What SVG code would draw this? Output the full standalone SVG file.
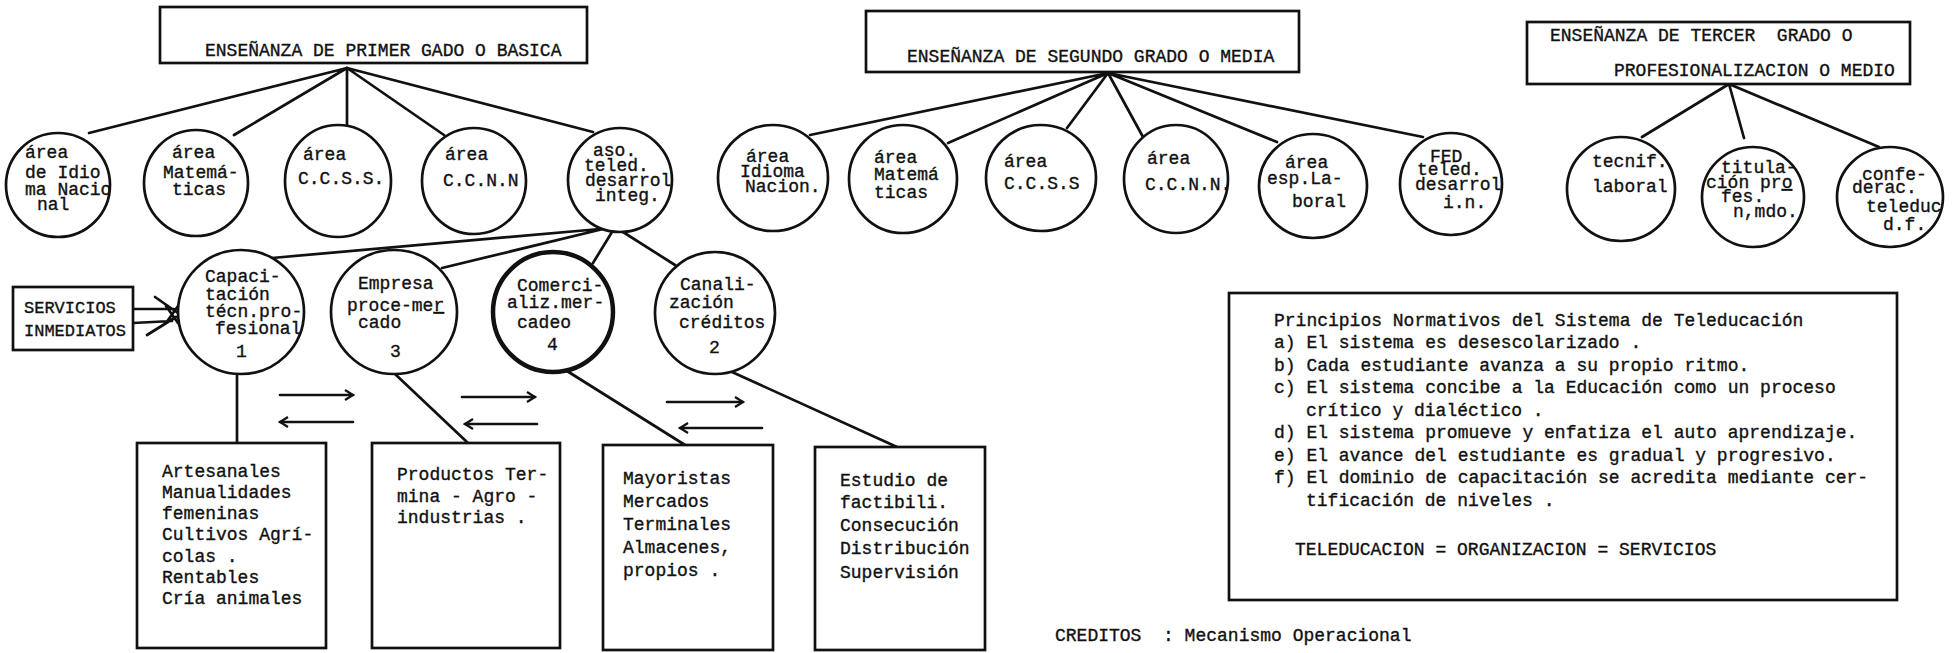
<svg xmlns="http://www.w3.org/2000/svg" width="1953" height="653" viewBox="0 0 1953 653">
<style>
.ln{stroke:#111;stroke-width:2.7;fill:none;stroke-linecap:round}
.nd{fill:#fff;stroke:#111;stroke-width:2.7}
.thick{stroke-width:4.5}
.t{font-family:"Liberation Mono","DejaVu Sans Mono",monospace;font-size:18px;fill:#111;stroke:#111;stroke-width:0.35}
.s17{font-size:17px}
.pre{white-space:pre}
</style>
<defs>
<marker id="arr" markerWidth="14" markerHeight="14" refX="11" refY="7" orient="auto" markerUnits="userSpaceOnUse">
<polyline points="3,2 11,7 3,12" fill="none" stroke="#111" stroke-width="2.2"/>
</marker>
</defs>
<rect width="1953" height="653" fill="#fff"/>

<g id="connectors">
<path class="ln" d="M347,68 L89,133 M347,68 L234,135 M347,68 L347,125 M347,68 L444,135 M347,68 L593,132"/>
<path class="ln" d="M1108,73 L810,135 M1108,73 L948,143 M1108,73 L1067,128 M1108,73 L1143,137 M1108,73 L1277,142 M1108,73 L1423,137"/>
<path class="ln" d="M1729,84 L1642,137 M1729,84 L1744,138 M1729,84 L1879,147"/>
<path class="ln" d="M600,229 L272,258 M603,229 L442,268 M612,232 L593,263 M623,232 L675,265"/>
<path class="ln" d="M237,374 L237,443 M395,374 L468,443 M567,371 L685,445 M732,372 L897,447"/>
<path class="ln" d="M133,309 L174,309 M133,323 L172,321 M155,297 L178,313 M147,335 L176,317 M166,306 L178,323 M166,323 L178,306"/>
<g class="ln" marker-end="url(#arr)">
<line x1="280" y1="395" x2="353" y2="395"/>
<line x1="353" y1="422" x2="280" y2="422"/>
<line x1="462" y1="397" x2="535" y2="397"/>
<line x1="537" y1="424" x2="465" y2="424"/>
<line x1="667" y1="402" x2="743" y2="402"/>
<line x1="762" y1="428" x2="680" y2="428"/>
</g>
</g>

<g id="box-primer">
<rect class="nd" x="160" y="7" width="427" height="56"/>
<text class="t" x="205" y="56">ENSEÑANZA DE PRIMER GADO O BASICA</text>
</g>
<g id="box-segundo">
<rect class="nd" x="866" y="11" width="433" height="61"/>
<text class="t" x="907" y="62">ENSEÑANZA DE SEGUNDO GRADO O MEDIA</text>
</g>
<g id="box-tercer">
<rect class="nd" x="1527" y="22" width="383" height="62"/>
<text class="t pre" x="1550" y="41">ENSEÑANZA DE TERCER  GRADO O</text>
<text class="t" x="1614" y="76">PROFESIONALIZACION O MEDIO</text>
</g>

<g id="p-idioma">
<ellipse class="nd" cx="58" cy="185" rx="52" ry="52"/>
<text class="t" x="25" y="158">área</text>
<text class="t" x="25" y="178">de Idio</text>
<text class="t" x="25" y="195">ma Nacio</text>
<text class="t" x="37" y="210">nal</text>
</g>
<g id="p-matematicas">
<ellipse class="nd" cx="196" cy="183" rx="52" ry="53"/>
<text class="t" x="172" y="158">área</text>
<text class="t" x="163" y="178">Matemá-</text>
<text class="t" x="172" y="195">ticas</text>
</g>
<g id="p-ccss">
<ellipse class="nd" cx="338" cy="181" rx="53" ry="56"/>
<text class="t" x="303" y="160">área</text>
<text class="t" x="298" y="184">C.C.S.S.</text>
</g>
<g id="p-ccnn">
<ellipse class="nd" cx="474" cy="181" rx="52" ry="53"/>
<text class="t" x="445" y="160">área</text>
<text class="t" x="443" y="186">C.C.N.N</text>
</g>
<g id="p-aso">
<ellipse class="nd" cx="620" cy="180" rx="52" ry="52"/>
<text class="t" x="593" y="156">aso.</text>
<text class="t" x="584" y="171">teled.</text>
<text class="t" x="585" y="186">desarrol</text>
<text class="t" x="595" y="201">integ.</text>
</g>

<g id="servicios">
<rect class="nd" x="13" y="287" width="120" height="63"/>
<text class="t s17" x="24" y="313">SERVICIOS</text>
<text class="t s17" x="24" y="336">INMEDIATOS</text>
</g>

<g id="capacitacion">
<ellipse class="nd" cx="241" cy="312" rx="63" ry="62"/>
<text class="t" x="205" y="282">Capaci-</text>
<text class="t" x="205" y="300">tación</text>
<text class="t" x="205" y="317">técn.pro-</text>
<text class="t" x="215" y="334">fesional</text>
<text class="t" x="236" y="357">1</text>
</g>
<g id="empresa">
<ellipse class="nd" cx="394" cy="312" rx="63" ry="62"/>
<text class="t" x="358" y="289">Empresa</text>
<text class="t" x="347" y="311">proce-me<tspan text-decoration="underline">r</tspan></text>
<text class="t" x="358" y="328">cado</text>
<text class="t" x="390" y="357">3</text>
</g>
<g id="comercializacion">
<ellipse class="nd thick" cx="553" cy="312" rx="60" ry="60"/>
<text class="t" x="517" y="291">Comerci-</text>
<text class="t" x="507" y="308">aliz.mer-</text>
<text class="t" x="517" y="328">cadeo</text>
<text class="t" x="547" y="350">4</text>
</g>
<g id="canalizacion">
<ellipse class="nd" cx="715" cy="313" rx="60" ry="61"/>
<text class="t" x="680" y="290">Canali-</text>
<text class="t" x="669" y="308">zación</text>
<text class="t" x="679" y="328">créditos</text>
<text class="t" x="709" y="353">2</text>
</g>

<g id="b-artesanales">
<rect class="nd" x="137" y="443" width="189" height="205"/>
<text class="t" x="162" y="477">Artesanales</text>
<text class="t" x="162" y="498">Manualidades</text>
<text class="t" x="162" y="519">femeninas</text>
<text class="t" x="162" y="540">Cultivos Agrí-</text>
<text class="t" x="162" y="562">colas .</text>
<text class="t" x="162" y="583">Rentables</text>
<text class="t" x="162" y="604">Cría animales</text>
</g>
<g id="b-productos">
<rect class="nd" x="372" y="443" width="188" height="205"/>
<text class="t" x="397" y="480">Productos Ter-</text>
<text class="t" x="397" y="502">mina - Agro -</text>
<text class="t" x="397" y="523">industrias .</text>
</g>
<g id="b-mayoristas">
<rect class="nd" x="603" y="445" width="170" height="205"/>
<text class="t" x="623" y="484">Mayoristas</text>
<text class="t" x="623" y="507">Mercados</text>
<text class="t" x="623" y="530">Terminales</text>
<text class="t" x="623" y="553">Almacenes,</text>
<text class="t" x="623" y="576">propios .</text>
</g>
<g id="b-estudio">
<rect class="nd" x="815" y="447" width="170" height="203"/>
<text class="t" x="840" y="486">Estudio de</text>
<text class="t" x="840" y="508">factibili.</text>
<text class="t" x="840" y="531">Consecución</text>
<text class="t" x="840" y="554">Distribución</text>
<text class="t" x="840" y="578">Supervisión</text>
</g>

<g id="s-idioma">
<ellipse class="nd" cx="773" cy="178" rx="55" ry="53"/>
<text class="t" x="746" y="162">área</text>
<text class="t" x="740" y="177">Idioma</text>
<text class="t" x="745" y="192">Nacion.</text>
</g>
<g id="s-matematicas">
<ellipse class="nd" cx="903" cy="179" rx="54" ry="54"/>
<text class="t" x="874" y="163">área</text>
<text class="t" x="874" y="180">Matemá</text>
<text class="t" x="874" y="198">ticas</text>
</g>
<g id="s-ccss">
<ellipse class="nd" cx="1041" cy="178" rx="55" ry="53"/>
<text class="t" x="1004" y="167">área</text>
<text class="t" x="1004" y="189">C.C.S.S</text>
</g>
<g id="s-ccnn">
<ellipse class="nd" cx="1176" cy="179" rx="52" ry="54"/>
<text class="t" x="1147" y="164">área</text>
<text class="t" x="1145" y="190">C.C.N.N.</text>
</g>
<g id="s-laboral">
<ellipse class="nd" cx="1313" cy="186" rx="54" ry="52"/>
<text class="t" x="1285" y="168">área</text>
<text class="t" x="1267" y="184">esp.La-</text>
<text class="t" x="1292" y="207">boral</text>
</g>
<g id="s-fed">
<ellipse class="nd" cx="1451" cy="184" rx="51" ry="51"/>
<text class="t" x="1430" y="162">FED</text>
<text class="t" x="1417" y="175">teled.</text>
<text class="t" x="1415" y="190">desarrol</text>
<text class="t" x="1443" y="208">i.n.</text>
</g>

<g id="t-tecnif">
<ellipse class="nd" cx="1621" cy="189" rx="54" ry="52"/>
<text class="t" x="1592" y="167">tecnif.</text>
<text class="t" x="1592" y="192">laboral</text>
</g>
<g id="t-titulacion">
<ellipse class="nd" cx="1753" cy="197" rx="51" ry="50"/>
<text class="t" x="1721" y="173">titula-</text>
<text class="t" x="1706" y="188">ción pr<tspan text-decoration="underline">o</tspan></text>
<text class="t" x="1721" y="202">fes.</text>
<text class="t" x="1733" y="217">n,mdo.</text>
</g>
<g id="t-confederacion">
<ellipse class="nd" cx="1890" cy="197" rx="53" ry="50"/>
<text class="t" x="1862" y="180">confe-</text>
<text class="t" x="1852" y="193">derac.</text>
<text class="t" x="1866" y="212">teleduc</text>
<text class="t" x="1883" y="230">d.f.</text>
</g>

<g id="principios">
<rect class="nd" x="1229" y="293" width="668" height="307"/>
<text class="t" x="1274" y="326">Principios Normativos del Sistema de Teleducación</text>
<text class="t" x="1274" y="348">a) El sistema es desescolarizado .</text>
<text class="t" x="1274" y="371">b) Cada estudiante avanza a su propio ritmo.</text>
<text class="t" x="1274" y="393">c) El sistema concibe a la Educación como un proceso</text>
<text class="t" x="1306" y="416">crítico y dialéctico .</text>
<text class="t" x="1274" y="438">d) El sistema promueve y enfatiza el auto aprendizaje.</text>
<text class="t" x="1274" y="461">e) El avance del estudiante es gradual y progresivo.</text>
<text class="t" x="1274" y="483">f) El dominio de capacitación se acredita mediante cer-</text>
<text class="t" x="1306" y="506">tificación de niveles .</text>
<text class="t" x="1295" y="555">TELEDUCACION = ORGANIZACION = SERVICIOS</text>
</g>

<g id="creditos">
<text class="t pre" x="1055" y="641">CREDITOS  : Mecanismo Operacional</text>
</g>
</svg>
